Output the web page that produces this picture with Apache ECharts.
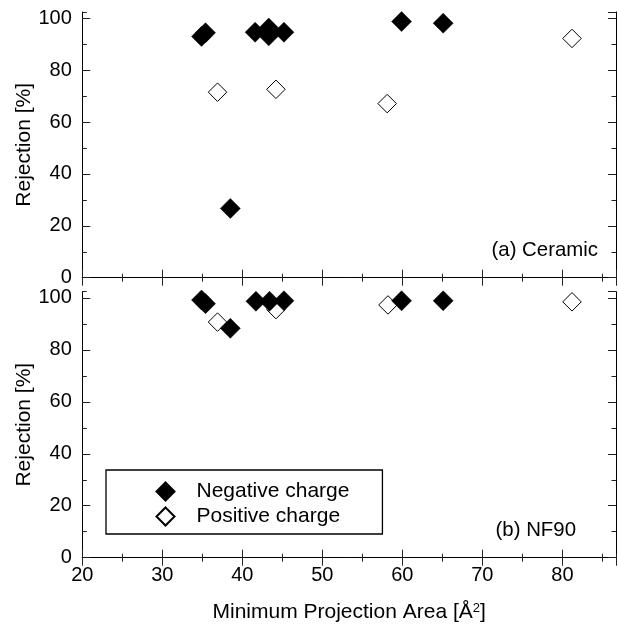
<!DOCTYPE html>
<html>
<head>
<meta charset="utf-8">
<script src="https://cdn.jsdelivr.net/npm/echarts@6/dist/echarts.min.js"></script>
<style>html,body{margin:0;padding:0;background:#fff}#c{width:618px;height:633px}</style>
</head>
<body>
<div id="c"></div>
<script>
// ---- data ----
var ceramicNegX = [34.9, 35.4, 38.5, 41.6, 43.3, 43.3, 45.2, 59.9, 65.1];
var ceramicNegY = [93.0, 94.4, 26.7, 94.6, 96.2, 93.2, 94.6, 98.7, 98.1];
var ceramicPosX = [36.9, 44.2, 58.1, 81.2];
var ceramicPosY = [71.5, 72.6, 67.1, 92.2];
var nf90NegX = [34.9, 35.4, 38.5, 41.7, 43.4, 45.2, 59.9, 65.1];
var nf90NegY = [99.2, 97.8, 88.3, 98.7, 98.7, 98.9, 98.9, 98.9];
var nf90PosX = [36.9, 44.2, 58.2, 81.2];
var nf90PosY = [90.7, 95.5, 97.3, 98.5];
var xTicks = [20, 30, 40, 50, 60, 70, 80];
var yTicks = [0, 20, 40, 60, 80, 100];
var panelLabels = ['(a) Ceramic', '(b) NF90'];
var seriesNames = ['Negative charge', 'Positive charge'];

function zip(xs, ys) { return xs.map(function (x, i) { return [x, ys[i]]; }); }

var FONT = 'Liberation Sans, Arial, Helvetica, sans-serif';
var X_MIN = xTicks[0], X_MAX = 86.7, X_INT = xTicks[1] - xTicks[0];
var Y_MIN = yTicks[0], Y_MAX = 102.4, Y_INT = yTicks[1] - yTicks[0];

var grids = [
  { left: 82.3, right: 2, top: 12, height: 265.7 },
  { left: 82.3, right: 2, top: 291.7, height: 266 }
];

var xAxes = [], yAxes = [];
function lineStyle() { return { show: true, lineStyle: { color: '#000', width: 1 } }; }

grids.forEach(function (g, gi) {
  var isBottom = gi === 1;
  xAxes.push({
    gridIndex: gi, type: 'value', position: 'bottom', min: X_MIN, max: X_MAX, interval: X_INT,
    axisLine: lineStyle(), splitLine: { show: false },
    axisTick: { show: true, inside: true, length: 8, lineStyle: { color: '#222', width: 1 } },
    axisLabel: { show: isBottom, showMaxLabel: false, margin: 8, fontSize: 20, color: '#000', fontFamily: FONT },
    name: isBottom ? '{a|Minimum Projection Area [Å}{s|2}{a|]}' : '',
    nameLocation: 'middle', nameGap: 44, nameMoveOverlap: false,
    nameTextStyle: {
      rich: {
        a: { fontSize: 21, color: '#000', fontFamily: FONT },
        s: { fontSize: 13, color: '#000', fontFamily: FONT, verticalAlign: 'top', padding: [0, 0, 9, 0] }
      }
    }
  });
  xAxes.push({
    gridIndex: gi, type: 'value', position: 'bottom', min: X_MIN, max: X_MAX, interval: X_INT / 2,
    axisLine: { show: false }, splitLine: { show: false }, axisLabel: { show: false },
    axisTick: { show: true, inside: true, length: 4, lineStyle: { color: '#222', width: 1 } }
  });
  xAxes.push({
    gridIndex: gi, type: 'value', position: 'top', min: X_MIN, max: X_MAX, interval: X_INT,
    axisLine: lineStyle(), splitLine: { show: false }, axisLabel: { show: false },
    axisTick: { show: true, inside: true, length: 8, lineStyle: { color: '#222', width: 1 } }
  });
  xAxes.push({
    gridIndex: gi, type: 'value', position: 'top', min: X_MIN, max: X_MAX, interval: X_INT / 2,
    axisLine: { show: false }, splitLine: { show: false }, axisLabel: { show: false },
    axisTick: { show: true, inside: true, length: 4, lineStyle: { color: '#222', width: 1 } }
  });
  yAxes.push({
    gridIndex: gi, type: 'value', position: 'left', min: Y_MIN, max: Y_MAX, interval: Y_INT,
    axisLine: lineStyle(), splitLine: { show: false },
    axisTick: { show: true, inside: true, length: 8, lineStyle: { color: '#222', width: 1 } },
    axisLabel: { show: true, showMaxLabel: false, margin: 10.5, fontSize: 20, color: '#000', fontFamily: FONT },
    name: 'Rejection [%]', nameLocation: 'middle', nameGap: 48, nameMoveOverlap: false,
    nameTextStyle: { fontSize: 21, color: '#000', fontFamily: FONT }
  });
  yAxes.push({
    gridIndex: gi, type: 'value', position: 'left', min: Y_MIN, max: Y_MAX, interval: Y_INT / 2,
    axisLine: { show: false }, splitLine: { show: false }, axisLabel: { show: false },
    axisTick: { show: true, inside: true, length: 4.5, lineStyle: { color: '#222', width: 1 } }
  });
  yAxes.push({
    gridIndex: gi, type: 'value', position: 'right', min: Y_MIN, max: Y_MAX, interval: Y_INT,
    axisLine: lineStyle(), splitLine: { show: false }, axisLabel: { show: false },
    axisTick: { show: true, inside: true, length: 8, lineStyle: { color: '#222', width: 1 } }
  });
  yAxes.push({
    gridIndex: gi, type: 'value', position: 'right', min: Y_MIN, max: Y_MAX, interval: Y_INT / 2,
    axisLine: { show: false }, splitLine: { show: false }, axisLabel: { show: false },
    axisTick: { show: true, inside: true, length: 4.5, lineStyle: { color: '#222', width: 1 } }
  });
});

var negStyle = { color: '#000', borderColor: '#000', borderWidth: 0.5, opacity: 1 };
var posStyle = { color: '#fff', borderColor: '#000', borderWidth: 1, opacity: 1 };

var series = [
  { name: seriesNames[1], type: 'scatter', xAxisIndex: 0, yAxisIndex: 0, symbol: 'diamond', symbolSize: 18.5, itemStyle: posStyle, data: zip(ceramicPosX, ceramicPosY), z: 2 },
  { name: seriesNames[0], type: 'scatter', xAxisIndex: 0, yAxisIndex: 0, symbol: 'diamond', symbolSize: 20, itemStyle: negStyle, data: zip(ceramicNegX, ceramicNegY), z: 3 },
  { name: seriesNames[1], type: 'scatter', xAxisIndex: 4, yAxisIndex: 4, symbol: 'diamond', symbolSize: 18.5, itemStyle: posStyle, data: zip(nf90PosX, nf90PosY), z: 2 },
  { name: seriesNames[0], type: 'scatter', xAxisIndex: 4, yAxisIndex: 4, symbol: 'diamond', symbolSize: 20, itemStyle: negStyle, data: zip(nf90NegX, nf90NegY), z: 3 }
];

var chart = echarts.init(document.getElementById('c'), null, { renderer: 'canvas' });
chart.setOption({
  animation: false,
  backgroundColor: '#fff',
  grid: grids,
  xAxis: xAxes,
  yAxis: yAxes,
  series: series,
  legend: {
    data: seriesNames,
    orient: 'vertical',
    left: 106, top: 470,
    padding: [11, 33, 7, 49.5],
    itemWidth: 18, itemHeight: 18, itemGap: 4,
    borderColor: '#000', borderWidth: 1.3, borderRadius: 0,
    backgroundColor: '#fff',
    selectedMode: false,
    itemStyle: { opacity: 1 },
    textStyle: { fontSize: 21, lineHeight: 21, color: '#000', fontFamily: FONT, padding: [0, 0, 0, 17] }
  },
  graphic: [
    { type: 'text', right: 20, top: 240, style: { text: panelLabels[0], font: '20.4px ' + FONT, fill: '#000' } },
    { type: 'text', right: 42, top: 520, style: { text: panelLabels[1], font: '20.4px ' + FONT, fill: '#000' } }
  ]
});
</script>
</body>
</html>
